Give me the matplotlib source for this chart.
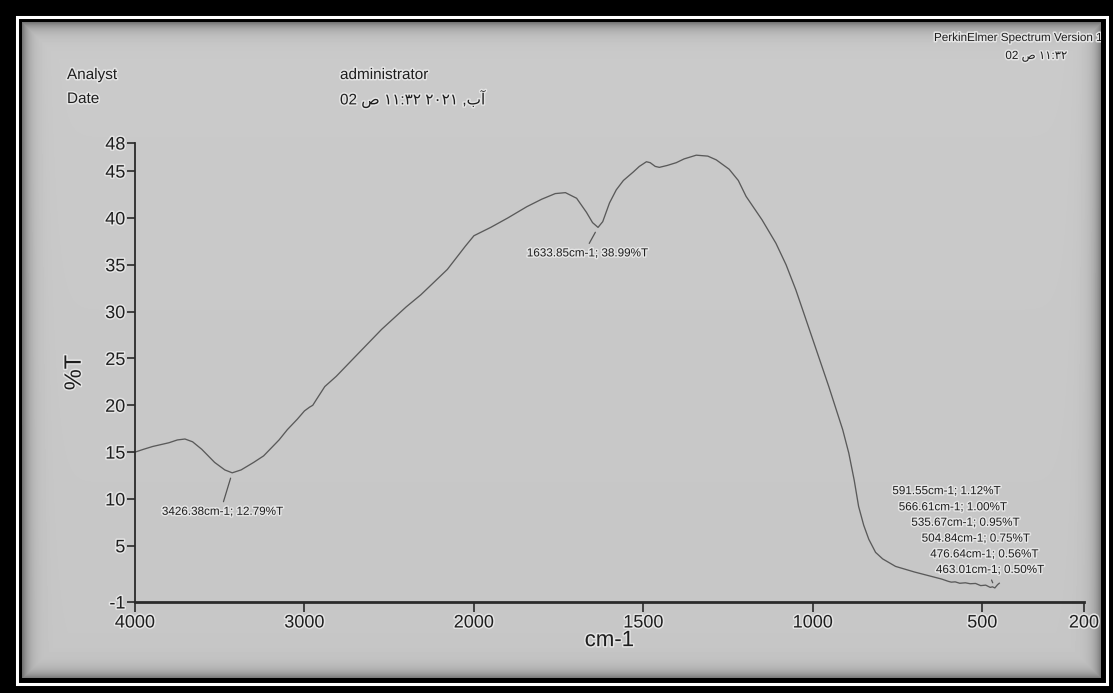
import numpy as np
import matplotlib
matplotlib.use("Agg")
import matplotlib.pyplot as plt
from matplotlib.patches import Rectangle
import matplotlib.patheffects as pe

# ---- spectrum data (wavenumber in cm-1, transmittance in %T) ----
wavenumber = [4000, 3950, 3896, 3800, 3750, 3705, 3660, 3606, 3530, 3470,
              3426.38, 3374, 3300, 3241, 3150, 3101, 3043, 3000, 2970, 2951,
              2930, 2880, 2812, 2700, 2545, 2400, 2313, 2157, 2050, 2000,
              1950, 1900, 1844, 1800, 1760, 1730, 1697, 1668, 1650, 1633.85,
              1620, 1600, 1580, 1559, 1530, 1512, 1491, 1480, 1465, 1453,
              1430, 1403, 1380, 1344, 1310, 1285, 1247, 1220, 1197, 1150,
              1109, 1079, 1050, 1000, 953, 912, 894, 878, 865, 850,
              835, 815, 794, 756, 700, 668, 620, 600, 591.55, 580,
              566.61, 550, 535.67, 520, 504.84, 490, 476.64, 470, 463.01, 455,
              450]
transmittance = [15.0, 15.3, 15.6, 16.0, 16.3, 16.4, 16.1, 15.3, 13.9, 13.1,
                 12.79, 13.1, 13.9, 14.6, 16.3, 17.4, 18.5, 19.4, 19.8, 20.0,
                 20.6, 22.0, 23.1, 25.2, 28.1, 30.5, 31.8, 34.5, 37.0, 38.1,
                 39.0, 40.0, 41.2, 42.0, 42.6, 42.7, 42.1, 40.6, 39.5, 38.99,
                 39.6, 41.6, 43.0, 44.0, 44.9, 45.5, 46.0, 45.9, 45.5, 45.4,
                 45.6, 45.9, 46.3, 46.7, 46.6, 46.2, 45.2, 44.0, 42.3, 39.8,
                 37.3, 35.0, 32.3, 27.0, 22.0, 17.4, 14.9, 12.0, 9.2, 7.2,
                 5.7, 4.3, 3.6, 2.8, 2.2, 1.9, 1.45, 1.2, 1.12, 1.15,
                 1.00, 1.05, 0.95, 0.98, 0.75, 0.80, 0.56, 0.62, 0.50, 0.85,
                 1.0]

# labelled peaks
peak_wavenumber = [3426.38, 1633.85, 591.55, 566.61, 535.67, 504.84, 476.64, 463.01]
peak_transmittance = [12.79, 38.99, 1.12, 1.00, 0.95, 0.75, 0.56, 0.50]

x_ticks = [4000, 3000, 2000, 1500, 1000, 500, 200]
y_ticks = [-1, 5, 10, 15, 20, 25, 30, 35, 40, 45, 48]

# label placement (pixel offsets from the peak) and whether a leader is drawn
label_offsets = [(-10, -39), (-11, -26), (-5, 91), (-7, 76), (-5, 61), (-5, 47), (-6, 33), (-5, 18)]
label_leader = [True, True, False, False, False, False, False, True]

W, H = 1113, 693
FONT = ['Liberation Sans', 'DejaVu Sans']
TEXT_COLOR = '#1e1e1e'
halo = [pe.withStroke(linewidth=2.2, foreground='#e4e4e4')]

fig = plt.figure(figsize=(W / 100, H / 100), dpi=100)
fig.patch.set_facecolor('black')

# ---- paper background with darkened edges ----
bg = fig.add_axes([0, 0, 1, 1], zorder=0)
bg.set_xlim(0, W)
bg.set_ylim(H, 0)
bg.axis('off')
yy, xx = np.mgrid[0:H, 0:W]
dist = np.minimum.reduce([xx - 22, 1101 - xx, yy - 22, 678 - yy]).clip(0)
paper = 202 - 4 * (yy / H) - 85 * np.exp(-dist / 7.0)
bg.imshow(paper, cmap='gray', vmin=0, vmax=255, extent=(0, W, H, 0),
          interpolation='bilinear', aspect='auto')

# ---- header texts ----
hdr = dict(family=FONT, color=TEXT_COLOR, va='center', path_effects=halo)
bg.text(67, 75, 'Analyst', fontsize=11, ha='left', **hdr)
bg.text(67, 99, 'Date', fontsize=11, ha='left', **hdr)
bg.text(340, 75, 'administrator', fontsize=11, ha='left', **hdr)
bg.text(340, 99, '02 ص ١١:٣٢ ٢٠٢١ ,بآ', fontsize=11, ha='left', **hdr)
bg.text(934, 38, 'PerkinElmer Spectrum Version 1', fontsize=8.4, ha='left', **hdr)
bg.text(1067, 56, '02 ص ١١:٣٢', fontsize=8.4, ha='right', **hdr)

# ---- spectrum axes (scale halves above 2000 cm-1) ----
def _fwd(x):
    x = np.asarray(x, dtype=float)
    return np.where(x > 2000, 2000 + (x - 2000) / 2.0, x)

def _inv(u):
    u = np.asarray(u, dtype=float)
    return np.where(u > 2000, 2000 + (u - 2000) * 2.0, u)

left, right, top, bottom = 135, 1084, 143, 602
ax = fig.add_axes([left / W, (H - bottom) / H, (right - left) / W, (bottom - top) / H], zorder=2)
ax.patch.set_alpha(0)
ax.set_xscale('function', functions=(_fwd, _inv))
ax.set_xlim(4000, 200)
ax.set_ylim(-1, 48)

ax.plot(wavenumber, transmittance, color='#5a5a5a', lw=0.95, solid_joinstyle='round')

for sp in ('top', 'right'):
    ax.spines[sp].set_visible(False)
ax.spines['left'].set_color('#2a2a2a')
ax.spines['left'].set_linewidth(1.3)
ax.spines['bottom'].set_color('#2a2a2a')
ax.spines['bottom'].set_linewidth(2.0)

ax.set_xticks(x_ticks)
ax.set_xticklabels([str(t) for t in x_ticks])
ax.set_yticks(y_ticks)
ax.set_yticklabels([str(t) for t in y_ticks])
ax.minorticks_off()
ax.tick_params(axis='both', direction='out', colors='#2a2a2a', width=1.2,
               labelcolor=TEXT_COLOR, labelsize=13)
ax.tick_params(axis='x', length=7, pad=2)
ax.tick_params(axis='y', length=6, pad=1)
for lab in ax.get_xticklabels() + ax.get_yticklabels():
    lab.set_family(FONT)
    lab.set_path_effects(halo)

ax.set_ylabel('%T', family=FONT, fontsize=17, color=TEXT_COLOR,
              labelpad=14, path_effects=halo)
ax.set_xlabel('cm-1', family=FONT, fontsize=16, color=TEXT_COLOR,
              labelpad=-1, path_effects=halo)

# ---- peak annotations ----
for w, t, (dx, dy), lead in zip(peak_wavenumber, peak_transmittance, label_offsets, label_leader):
    label = f'{w:.2f}cm-1; {t:.2f}%T'
    kw = {}
    if lead:
        rel = (0.5, 1.0) if dy < 0 else (0.5, 0.0)
        kw['arrowprops'] = dict(arrowstyle='-', color='#555555', lw=0.9,
                                shrinkA=1, shrinkB=4, relpos=rel)
    ax.annotate(label, xy=(w, t), xytext=(dx, dy), textcoords='offset pixels',
                ha='center', va='center', fontsize=8.4, family=FONT,
                color=TEXT_COLOR, path_effects=halo, **kw)

# ---- photo frame ----
ov = fig.add_axes([0, 0, 1, 1], zorder=5)
ov.set_xlim(0, W)
ov.set_ylim(H, 0)
ov.axis('off')
ov.patch.set_alpha(0)
for (x0, y0, w0, h0) in [(0, 0, 22, H), (1101, 0, W - 1101, H), (0, 0, W, 22), (0, 678, W, H - 678)]:
    ov.add_patch(Rectangle((x0, y0), w0, h0, facecolor='black', edgecolor='none'))
ov.add_patch(Rectangle((16.5, 16.5), 1090, 667, fill=False, edgecolor='white', lw=2.2))

fig.savefig('out.png', dpi=100, facecolor=fig.get_facecolor())
